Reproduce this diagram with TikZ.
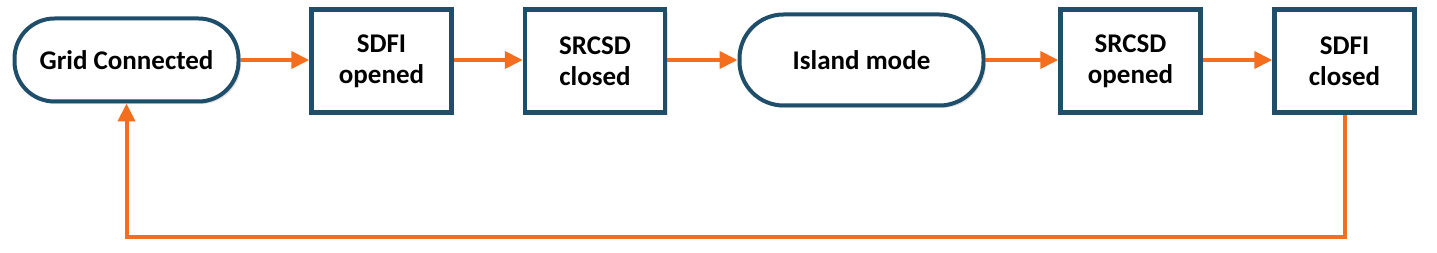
\documentclass[tikz,border=0pt]{standalone}
\usepackage{fontspec}
\setmainfont{Carlito}
\usetikzlibrary{arrows.meta,shadows}
\definecolor{edgeblue}{HTML}{1F4E6B}
\definecolor{flow}{HTML}{F56E1E}
\begin{document}
\begin{tikzpicture}[x=1pt,y=1pt,
  every node/.style={font=\fontsize{27}{31}\selectfont\bfseries, align=center, text=black},
  boxstate/.style={draw=edgeblue, line width=4.5pt, fill=white, minimum width=140pt, minimum height=103pt, inner sep=0pt,
     drop shadow={shadow xshift=2.5pt, shadow yshift=-2.5pt, opacity=0.25, fill=gray}},
  modestate/.style={draw=edgeblue, line width=4pt, fill=white, rounded corners=40pt, inner sep=0pt,
     drop shadow={shadow xshift=2.5pt, shadow yshift=-2.5pt, opacity=0.25, fill=gray}},
  flowarrow/.style={draw=flow, line width=4pt, -{Triangle[length=18pt,width=17pt]}}
]
\useasboundingbox (0,0) rectangle (1437,253);
\node[modestate, minimum width=224pt, minimum height=83pt] (gc) at (126.5,193) {Grid Connected};
\node[boxstate] (s1) at (381.5,192) {SDFI\\opened};
\node[boxstate] (s2) at (595,192) {SRCSD\\closed};
\node[modestate, minimum width=244pt, minimum height=91pt, rounded corners=44pt] (im) at (861.5,193) {Island mode};
\node[boxstate] (s3) at (1130.5,192) {SRCSD\\opened};
\node[boxstate] (s4) at (1344.5,192) {SDFI\\closed};
\coordinate (lr) at (1344.5,16);
\coordinate (ll) at (126.5,16);
\draw[flowarrow] (gc.east) -- (gc.east -| s1.west);
\draw[flowarrow] (s1.east |- gc.east) -- (s2.west |- gc.east);
\draw[flowarrow] (s2.east |- im.east) -- (im.west);
\draw[flowarrow] (im.east) -- (s3.west |- im.east);
\draw[flowarrow] (s3.east |- im.east) -- (s4.west |- im.east);
\draw[flowarrow] (s4.south) -- (lr) -- (ll) -- (gc.south);
\end{tikzpicture}
\end{document}
